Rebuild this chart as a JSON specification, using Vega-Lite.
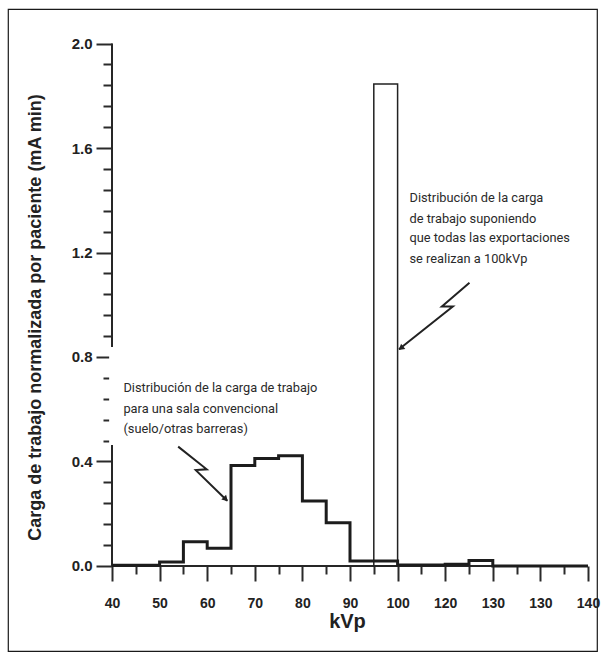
{
  "$schema": "https://vega.github.io/schema/vega-lite/v6.json",
  "width": 589,
  "height": 642,
  "autosize": {"type": "none"},
  "padding": {"left": 8, "top": 9, "right": 8, "bottom": 9},
  "background": "white",
  "config": {
    "view": {"stroke": "#1a1a1a", "strokeWidth": 1.2},
    "font": "Liberation Sans",
    "axis": {"labelOverlap": false, "labelBound": false, "labelFlush": false}
  },
  "datasets": {
    "axes": [
      {"x": 40, "x2": 40, "y": 0, "y2": 2.0},
      {"x": 40, "x2": 140, "y": 0, "y2": 0}
    ],
    "steps": [
      {"kvp": 40, "carga": 0.003},
      {"kvp": 45, "carga": 0.003},
      {"kvp": 50, "carga": 0.015},
      {"kvp": 55, "carga": 0.093},
      {"kvp": 60, "carga": 0.068},
      {"kvp": 65, "carga": 0.385},
      {"kvp": 70, "carga": 0.411},
      {"kvp": 75, "carga": 0.422},
      {"kvp": 80, "carga": 0.249},
      {"kvp": 85, "carga": 0.166},
      {"kvp": 90, "carga": 0.019},
      {"kvp": 95, "carga": 0.019},
      {"kvp": 100, "carga": 0.004},
      {"kvp": 105, "carga": 0.004},
      {"kvp": 110, "carga": 0.007},
      {"kvp": 115, "carga": 0.021},
      {"kvp": 120, "carga": 0.0},
      {"kvp": 140, "carga": 0.0}
    ],
    "barra": [
      {"x": 95, "x2": 100, "y": 0, "y2": 1.845}
    ],
    "caja": [
      {"x": 39.4, "x2": 90.2, "y": 0.463, "y2": 0.838}
    ],
    "textos": [
      {"x": 42.4, "y": 0.680, "t": "Distribución de la carga de trabajo"},
      {"x": 42.4, "y": 0.602, "t": "para una sala convencional"},
      {"x": 42.4, "y": 0.524, "t": "(suelo/otras barreras)"},
      {"x": 102.5, "y": 1.407, "t": "Distribución de la carga"},
      {"x": 102.5, "y": 1.330, "t": "de trabajo suponiendo"},
      {"x": 102.5, "y": 1.254, "t": "que todas las exportaciones"},
      {"x": 102.5, "y": 1.177, "t": "se realizan a 100kVp"}
    ],
    "flechas": [
      {"f": "a", "o": 0, "x": 53.9, "y": 0.457},
      {"f": "a", "o": 1, "x": 59.9, "y": 0.370},
      {"f": "a", "o": 2, "x": 57.6, "y": 0.367},
      {"f": "a", "o": 3, "x": 64.2, "y": 0.250},
      {"f": "b", "o": 0, "x": 115.1, "y": 1.084},
      {"f": "b", "o": 1, "x": 109.3, "y": 0.993},
      {"f": "b", "o": 2, "x": 111.6, "y": 0.993},
      {"f": "b", "o": 3, "x": 100.3, "y": 0.830}
    ],
    "puntas": [
      {"x": 63.9, "y": 0.256, "ang": 135},
      {"x": 100.7, "y": 0.834, "ang": 231}
    ]
  },
  "layer": [
    {
      "data": {"name": "axes"},
      "mark": {"type": "rule", "stroke": "#262626", "strokeWidth": 2},
      "encoding": {
        "x": {
          "field": "x", "type": "quantitative",
          "scale": {"domain": [18.151, 141.891], "nice": false, "zero": false},
          "axis": {
            "orient": "bottom",
            "offset": -85,
            "domain": false,
            "grid": false,
            "tickCount": 100,
            "values": [40, 45, 50, 55, 60, 65, 70, 75, 80, 85, 90, 95, 100, 105, 110, 115, 120, 125, 130, 135, 140],
            "labelExpr": "datum.value % 10 != 0 ? '' : (datum.value == 110 ? '120' : (datum.value == 120 ? '130' : datum.label))",
            "tickSize": {"condition": {"test": "datum.value % 10 == 0", "value": 15}, "value": 8},
            "tickWidth": 2,
            "tickColor": "#2a2a2a",
            "labelFont": "Liberation Sans",
            "labelFontWeight": "bold",
            "labelFontSize": 14,
            "labelColor": "#222222",
            "labelPadding": 15,
            "labelOverlap": false,
            "title": "kVp",
            "titleFont": "Liberation Sans",
            "titleFontSize": 20,
            "titleFontWeight": "bold",
            "titleColor": "#222222",
            "titleX": 339,
            "titleY": 55,
            "titleBaseline": "middle",
            "titleAlign": "center"
          }
        },
        "x2": {"field": "x2"},
        "y": {
          "field": "y", "type": "quantitative",
          "scale": {"domain": [-0.3254, 2.1321], "nice": false, "zero": false},
          "axis": {
            "orient": "left",
            "offset": -104,
            "domain": false,
            "grid": false,
            "tickCount": 100,
            "values": [0, 0.08, 0.16, 0.24, 0.32, 0.4, 0.48, 0.56, 0.64, 0.72, 0.8, 0.88, 0.96, 1.04, 1.12, 1.2, 1.28, 1.36, 1.44, 1.52, 1.6, 1.68, 1.76, 1.84, 1.92, 2.0],
            "labelExpr": "indexof([0, 0.4, 0.8, 1.2, 1.6, 2], datum.value) >= 0 ? format(datum.value, '.1f') : ''",
            "tickSize": {"condition": {"test": "indexof([0, 0.4, 0.8, 1.2, 1.6, 2], datum.value) >= 0", "value": 16}, "value": 9},
            "tickWidth": 2,
            "tickColor": "#2a2a2a",
            "labelFont": "Liberation Sans",
            "labelFontWeight": "bold",
            "labelFontSize": 15,
            "labelColor": "#222222",
            "labelPadding": 4,
            "labelOverlap": false,
            "title": "Carga de trabajo normalizada por paciente (mA min)",
            "titleFont": "Liberation Sans",
            "titleFontSize": 18,
            "titleFontWeight": "bold",
            "titleColor": "#222222",
            "titleX": -77,
            "titleY": 308,
            "titleBaseline": "middle",
            "titleAlign": "center",
            "titleAngle": -90
          }
        },
        "y2": {"field": "y2"}
      }
    },
    {
      "data": {"name": "barra"},
      "mark": {"type": "rect", "fill": "white", "fillOpacity": 0, "stroke": "#222222", "strokeWidth": 1.5},
      "encoding": {
        "x": {"field": "x", "type": "quantitative"},
        "x2": {"field": "x2"},
        "y": {"field": "y", "type": "quantitative"},
        "y2": {"field": "y2"}
      }
    },
    {
      "data": {"name": "steps"},
      "mark": {"type": "line", "interpolate": "step-after", "stroke": "#1c1c1c", "strokeWidth": 3},
      "encoding": {
        "x": {"field": "kvp", "type": "quantitative"},
        "y": {"field": "carga", "type": "quantitative"}
      }
    },
    {
      "data": {"name": "caja"},
      "mark": {"type": "rect", "fill": "white", "stroke": null},
      "encoding": {
        "x": {"field": "x", "type": "quantitative"},
        "x2": {"field": "x2"},
        "y": {"field": "y", "type": "quantitative"},
        "y2": {"field": "y2"}
      }
    },
    {
      "data": {"name": "textos"},
      "mark": {"type": "text", "align": "left", "baseline": "middle", "font": "Roboto", "fontSize": 12.8, "fill": "#2a2a2a"},
      "encoding": {
        "x": {"field": "x", "type": "quantitative"},
        "y": {"field": "y", "type": "quantitative"},
        "text": {"field": "t"}
      }
    },
    {
      "data": {"name": "flechas"},
      "mark": {"type": "line", "stroke": "#222222", "strokeWidth": 2},
      "encoding": {
        "x": {"field": "x", "type": "quantitative"},
        "y": {"field": "y", "type": "quantitative"},
        "detail": {"field": "f"},
        "order": {"field": "o"}
      }
    },
    {
      "data": {"name": "puntas"},
      "mark": {"type": "point", "shape": "triangle-up", "filled": true, "fill": "#222222", "size": 45, "opacity": 1},
      "encoding": {
        "x": {"field": "x", "type": "quantitative"},
        "y": {"field": "y", "type": "quantitative"},
        "angle": {"field": "ang", "type": "quantitative", "scale": {"domain": [0, 360], "range": [0, 360]}}
      }
    }
  ]
}
